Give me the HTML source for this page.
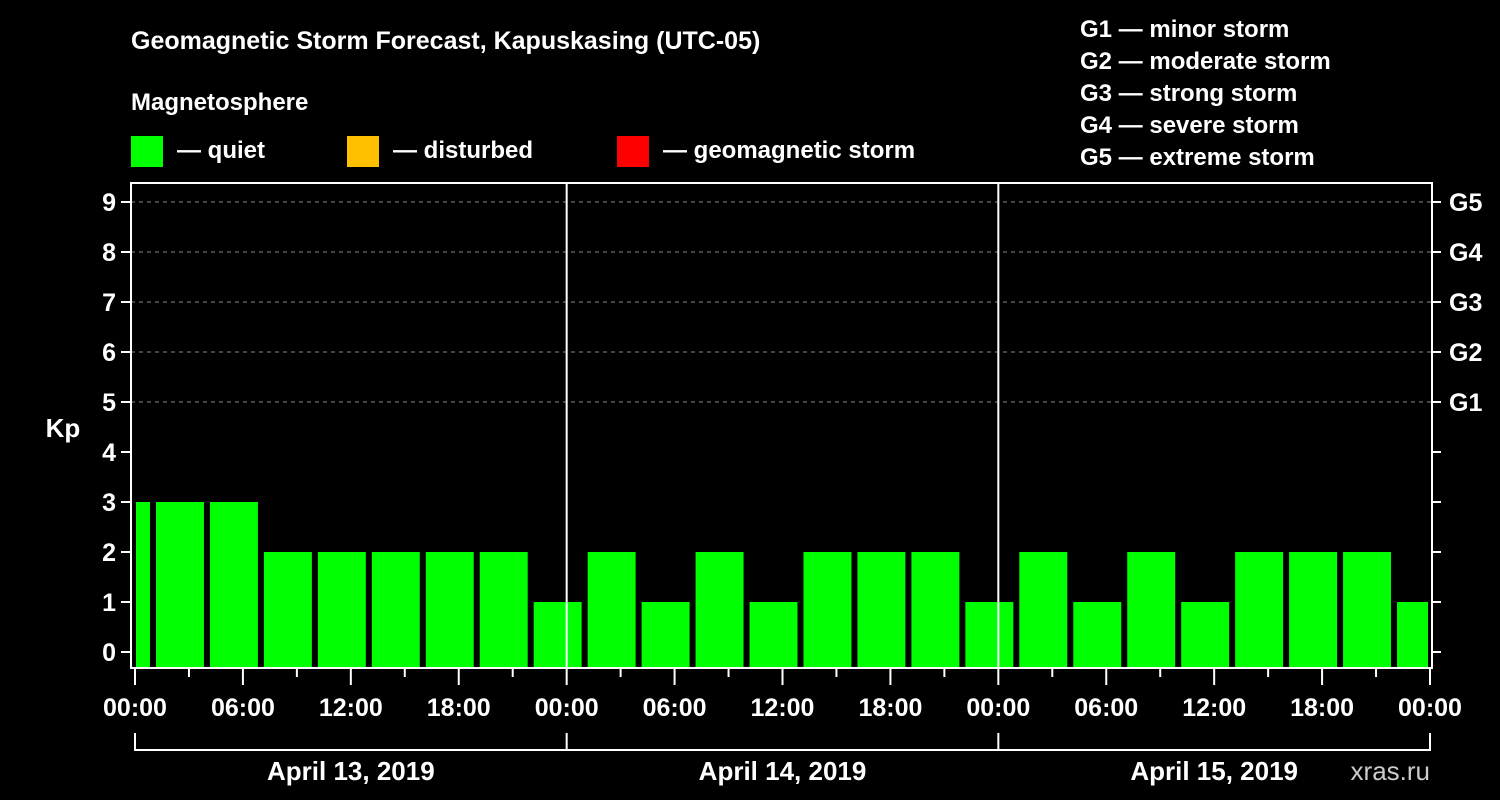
<!DOCTYPE html>
<html><head><meta charset="utf-8"><style>
body{margin:0;background:#000;}
svg{display:block;font-family:"Liberation Sans",Arial,sans-serif;font-weight:bold;}
</style></head><body>
<svg id="chart" width="1500" height="800">
<rect width="1500" height="800" fill="#000"/>
<text x="131" y="49" fill="#fff" font-size="25">Geomagnetic Storm Forecast, Kapuskasing (UTC-05)</text>
<text x="131" y="110" fill="#fff" font-size="24">Magnetosphere</text>
<g><rect x="131" y="136" width="32" height="31" fill="#00ff00"/><text x="177" y="158" fill="#fff" font-size="24">— quiet</text></g>
<g><rect x="347" y="136" width="32" height="31" fill="#ffc000"/><text x="393" y="158" fill="#fff" font-size="24">— disturbed</text></g>
<g><rect x="617" y="136" width="32" height="31" fill="#ff0000"/><text x="663" y="158" fill="#fff" font-size="24">— geomagnetic storm</text></g>
<g fill="#fff" font-size="24">
<text x="1080" y="37">G1 — minor storm</text>
<text x="1080" y="69">G2 — moderate storm</text>
<text x="1080" y="101">G3 — strong storm</text>
<text x="1080" y="133">G4 — severe storm</text>
<text x="1080" y="165">G5 — extreme storm</text>
</g>
<text x="63" y="437" fill="#fff" font-size="26" text-anchor="middle">Kp</text>
<text x="1430" y="780" fill="#ccc" font-size="26" font-weight="normal" text-anchor="end">xras.ru</text>
<g id="grid"></g><g id="bars"></g><g id="axes"></g>
</svg>
<script>
const yTicks=[0,1,2,3,4,5,6,7,8,9];
const gLabels=["G1","G2","G3","G4","G5"];
const gLevels=[5,6,7,8,9];
const xTickLabels=["00:00","06:00","12:00","18:00","00:00","06:00","12:00","18:00","00:00","06:00","12:00","18:00","00:00"];
const dayLabels=["April 13, 2019","April 14, 2019","April 15, 2019"];
// bar start hours (local, from Apr 13 00:00) and end hours, with Kp values
const barStart=[-2,1,4,7,10,13,16,19,22,25,28,31,34,37,40,43,46,49,52,55,58,61,64,67,70];
const kpValues=[3,3,3,2,2,2,2,2,1,2,1,2,1,2,2,2,1,2,1,2,1,2,2,2,1];
const NS="http://www.w3.org/2000/svg";
const X0=135,X1=1430,Y0=652,PY=50,TOP=183,BOT=668,LEFT=131,RIGHT=1432;
const xs=h=>X0+(X1-X0)*h/72;
const ys=v=>Y0-v*PY;
function mk(tag,attrs,parent,text){const e=document.createElementNS(NS,tag);for(const k in attrs)e.setAttribute(k,attrs[k]);if(text!==undefined)e.textContent=text;document.getElementById(parent).appendChild(e);return e;}
yTicks.forEach(v=>{if(v>=5){const l=mk('line',{x1:LEFT,x2:RIGHT,y1:ys(v),y2:ys(v),stroke:'#888','stroke-dasharray':'4,4','stroke-width':1},'grid');

}});
barStart.forEach((s,i)=>{let a=xs(s)+3,b=xs(s+3)-3;if(a<X0+1)a=X0+1;if(b>X1-2)b=X1-2;
const r=mk('rect',{x:a,y:ys(kpValues[i]),width:b-a,height:BOT-ys(kpValues[i]),fill:'#00ff00'},'bars');

});
[1,2].forEach(d=>{const l=mk('line',{x1:xs(24*d),x2:xs(24*d),y1:TOP,y2:BOT,stroke:'#fff','stroke-width':2},'axes');

});
const f=mk('rect',{x:LEFT,y:TOP,width:RIGHT-LEFT,height:BOT-TOP,fill:'none',stroke:'#fff','stroke-width':2},'axes');


yTicks.forEach(v=>{mk('line',{x1:121,x2:LEFT,y1:ys(v),y2:ys(v),stroke:'#fff','stroke-width':2},'axes');
const t=mk('text',{x:116,y:ys(v)+9,fill:'#fff','font-size':25,'text-anchor':'end'},'axes',String(v));


mk('line',{x1:RIGHT,x2:1441,y1:ys(v),y2:ys(v),stroke:'#fff','stroke-width':2},'axes');});
gLevels.forEach((v,i)=>{const t=mk('text',{x:1449,y:ys(v)+9,fill:'#fff','font-size':25},'axes',gLabels[i]);

});
for(let h=0;h<=72;h+=3){const major=h%6===0;mk('line',{x1:xs(h),x2:xs(h),y1:BOT,y2:major?685:677,stroke:'#fff','stroke-width':2},'axes');}
xTickLabels.forEach((s,i)=>{const t=mk('text',{x:xs(i*6),y:716,fill:'#fff','font-size':25,'text-anchor':'middle'},'axes',s);

});
mk('path',{d:`M${xs(0)},733V750H${xs(72)}V733M${xs(24)},733V750M${xs(48)},733V750`,stroke:'#fff','stroke-width':2,fill:'none'},'axes');
dayLabels.forEach((s,i)=>{const t=mk('text',{x:xs(24*i+12),y:780,fill:'#fff','font-size':26,'text-anchor':'middle'},'axes',s);

});
</script>
</body></html>
